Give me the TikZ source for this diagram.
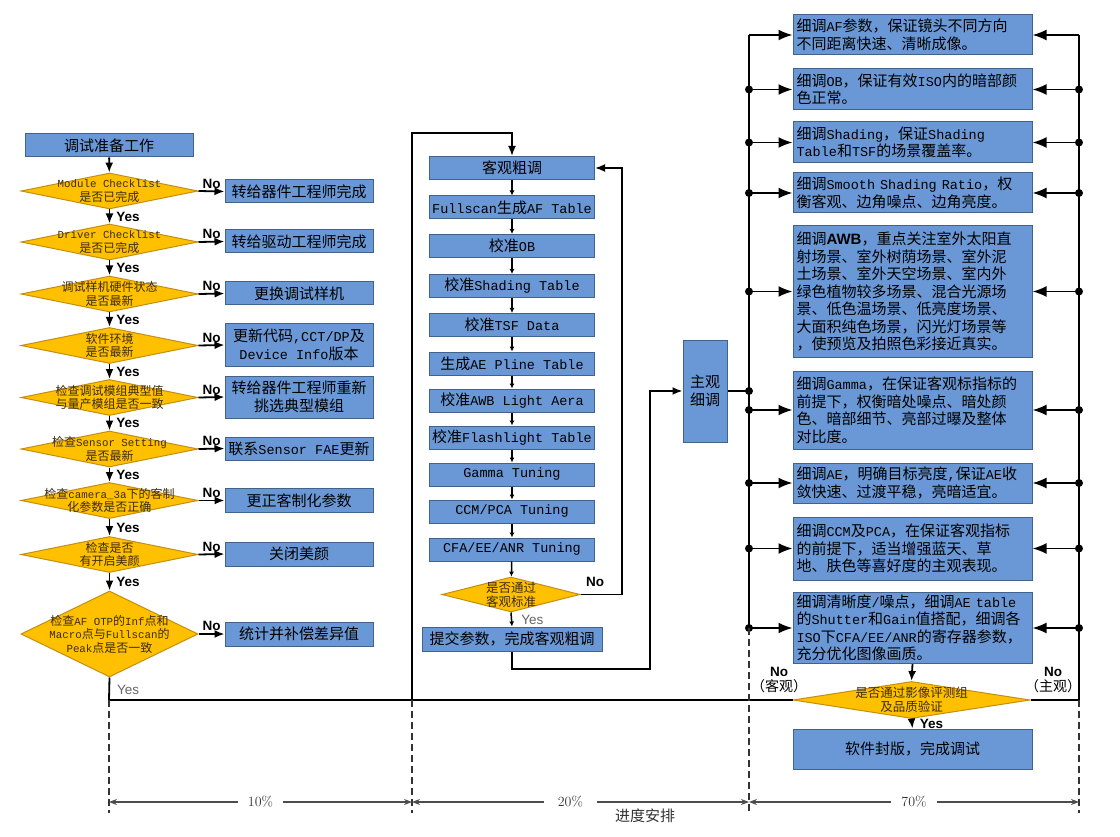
\documentclass[tikz,border=0pt]{standalone}
\usepackage{fontspec}
\newfontfamily\cjk{Noto Sans CJK SC}
\newfontfamily\mono{Liberation Mono}[Scale=0.9]
\newfontfamily\lsans{Liberation Sans}
\usetikzlibrary{shapes.geometric,arrows.meta,calc}
\newcommand\lat[1]{{\mono #1}}
\definecolor{boxfill}{RGB}{106,152,214}
\definecolor{boxline}{RGB}{66,98,142}
\definecolor{decfill}{RGB}{255,192,0}
\definecolor{decline}{RGB}{196,142,18}
\definecolor{dtextc}{RGB}{60,44,10}
\begin{document}
\begin{tikzpicture}[x=1pt,y=-1pt,
  box/.style={draw=boxline, fill=boxfill, line width=1pt, inner sep=0pt, align=center,
    font=\cjk\fontsize{15}{17.5}\selectfont},
  midbox/.style={box, minimum width=165pt, minimum height=23pt},
  leftbox/.style={box, minimum width=148pt},
  note/.style={box, align=left, text width=232pt, inner xsep=3.5pt, minimum width=239pt},
  decision/.style={diamond, draw=decline, fill=decfill, line width=1pt, inner sep=0pt},
  dtext/.style={font=\cjk\fontsize{12}{13.5}\selectfont, align=center, text=dtextc, inner sep=0pt},
  flow/.style={line width=1.8pt, -{Latex[length=10pt,width=8pt]}},
  wire/.style={line width=1.8pt},
  link/.style={line width=1.5pt, -{Latex[length=5pt,width=5pt]}},
  busarr/.style={line width=1.8pt, -{Latex[length=14pt,width=11pt]}},
  dot/.style={circle, fill=black, inner sep=0pt, minimum size=8pt},
  nolab/.style={font=\lsans\bfseries\fontsize{13.5}{14}\selectfont, inner sep=1pt},
  greylab/.style={font=\lsans\fontsize{13.5}{14}\selectfont, text=black!60, inner sep=1pt},
  marker/.style={line width=1.3pt, dash pattern=on 7pt off 4pt, black!80},
  dim/.style={line width=1.2pt, black!70, {Stealth[length=8pt,width=6pt]}-{Stealth[length=8pt,width=6pt]}},
  dimlab/.style={fill=white, inner xsep=10pt, inner ysep=1pt, font=\fontsize{14}{16}\selectfont, text=black!80}
]
\fill[white] (0,0) rectangle (1120,837);
\useasboundingbox (0,0) rectangle (1120,837);

% ---------- preparation checks ----------
\node[box, minimum width=168pt, minimum height=23pt] (start) at (109,145.5) {调试准备工作};

\node[decision, minimum width=177pt, minimum height=36pt,
  label={[dtext]center:{\lat{Module Checklist}\\是否已完成}}] (d1) at (109.5,191) {};
\node[decision, minimum width=177pt, minimum height=36pt,
  label={[dtext]center:{\lat{Driver Checklist}\\是否已完成}}] (d2) at (109.5,242) {};
\node[decision, minimum width=177pt, minimum height=36pt,
  label={[dtext]center:{调试样机硬件状态\\是否最新}}] (d3) at (109.5,294) {};
\node[decision, minimum width=177pt, minimum height=36pt,
  label={[dtext]center:{软件环境\\是否最新}}] (d4) at (109.5,345.5) {};
\node[decision, minimum width=177pt, minimum height=36pt,
  label={[dtext]center:{检查调试模组典型值\\与量产模组是否一致}}] (d5) at (109.5,397.5) {};
\node[decision, minimum width=177pt, minimum height=36pt,
  label={[dtext]center:{检查\lat{Sensor Setting}\\是否最新}}] (d6) at (109.5,449) {};
\node[decision, minimum width=177pt, minimum height=36pt,
  label={[dtext]center:{检查\lat{camera\_3a}下的客制\\化参数是否正确}}] (d7) at (109.5,500.5) {};
\node[decision, minimum width=177pt, minimum height=36pt,
  label={[dtext]center:{检查是否\\有开启美颜}}] (d8) at (109.5,554.5) {};
\node[decision, minimum width=177pt, minimum height=86pt,
  label={[dtext]center:{检查\lat{AF OTP}的\lat{Inf}点和\\\lat{Macro}点与\lat{Fullscan}的\\\lat{Peak}点是否一致}}] (d9) at (109.5,634) {};

\node[leftbox, minimum height=23pt] (b1) at (299,191.5) {转给器件工程师完成};
\node[leftbox, minimum height=23pt] (b2) at (299,241.5) {转给驱动工程师完成};
\node[leftbox, minimum height=23pt] (b3) at (299,293.5) {更换调试样机};
\node[leftbox, minimum height=43pt] (b4) at (299,345) {更新代码\lat{,CCT/DP}及\\\lat{Device Info}版本};
\node[leftbox, minimum height=42pt] (b5) at (299,397) {转给器件工程师重新\\挑选典型模组};
\node[leftbox, minimum height=23pt] (b6) at (299,448.5) {联系\lat{Sensor FAE}更新};
\node[leftbox, minimum height=24pt] (b7) at (299,500.5) {更正客制化参数};
\node[leftbox, minimum height=24pt] (b8) at (299,554) {关闭美颜};
\node[leftbox, minimum height=24pt] (b9) at (299,634) {统计并补偿差异值};

\draw[flow] (start) -- (d1);
\foreach \a/\b in {d1/d2,d2/d3,d3/d4,d4/d5,d5/d6,d6/d7,d7/d8,d8/d9}
  \draw[flow] (\a.south) -- (\b.north) node[midway, right=5pt, nolab] {Yes};
\foreach \a/\b in {d1/b1,d2/b2,d3/b3,d4/b4,d5/b5,d6/b6,d7/b7,d8/b8,d9/b9}
  \draw[flow] (\a.east) -- (\b.west) node[midway, above=1pt, nolab] {No};

% ---------- objective coarse tuning ----------
\node[midbox] (m1) at (512,168) {客观粗调};
\node[midbox] (m2) at (512,207.5) {\lat{Fullscan}生成\lat{AF Table}};
\node[midbox] (m3) at (512,246) {校准\lat{OB}};
\node[midbox] (m4) at (512,286) {校准\lat{Shading Table}};
\node[midbox] (m5) at (512,325) {校准\lat{TSF Data}};
\node[midbox] (m6) at (512,363.5) {生成\lat{AE Pline Table}};
\node[midbox] (m7) at (512,400.5) {校准\lat{AWB Light Aera}};
\node[midbox] (m8) at (512,437.5) {校准\lat{Flashlight Table}};
\node[midbox] (m9) at (512,474.5) {\lat{Gamma Tuning}};
\node[midbox] (m10) at (512,511.5) {\lat{CCM/PCA Tuning}};
\node[midbox] (m11) at (512,549.5) {\lat{CFA/EE/ANR Tuning}};
\node[decision, minimum width=138pt, minimum height=35pt,
  label={[dtext, font=\cjk\fontsize{12.5}{14}\selectfont]center:{是否通过\\客观标准}}] (md) at (511,594.5) {};
\node[box, minimum width=180pt, minimum height=24pt] (sub) at (512,639) {提交参数，完成客观粗调};

\foreach \a/\b in {m1/m2,m2/m3,m3/m4,m4/m5,m5/m6,m6/m7,m7/m8,m8/m9,m9/m10,m10/m11,m11/md}
  \draw[link] (\a) -- (\b);
\draw[link] (md.south) -- (sub.north) node[midway, right=8pt, greylab] {Yes};

\coordinate (nr) at (622,594.5);
\draw[flow] (md.east) -- (nr) node[pos=0.35, above=6pt, nolab] {No} |- (m1.east);

% ---------- subjective fine tuning ----------
\node[box, minimum width=44pt, minimum height=102pt] (zg) at (705,391) {主观\\细调};

\coordinate (s1) at (512,669);
\coordinate (s2) at (650,669);
\draw[flow] (sub.south) -- (s1) -- (s2) |- (zg.west);

\node[note, minimum height=40pt] (r1) at (912.5,35) {细调\lat{AF}参数，保证镜头不同方向\\不同距离快速、清晰成像。};
\node[note, minimum height=41pt] (r2) at (912.5,89.5) {细调\lat{OB}，保证有效\lat{ISO}内的暗部颜\\色正常。};
\node[note, minimum height=41pt] (r3) at (912.5,142.5) {细调\lat{Shading}，保证\lat{Shading}\\\lat{Table}和\lat{TSF}的场景覆盖率。};
\node[note, minimum height=40pt] (r4) at (912.5,193) {细调\lat{Smooth Shading Ratio}，权\\衡客观、边角噪点、边角亮度。};
\node[note, minimum height=131pt] (r5) at (912.5,291.5) {细调{\lsans\bfseries AWB}，重点关注室外太阳直\\射场景、室外树荫场景、室外泥\\土场景、室外天空场景、室内外\\绿色植物较多场景、混合光源场\\景、低色温场景、低亮度场景、\\大面积纯色场景，闪光灯场景等\\，使预览及拍照色彩接近真实。};
\node[note, minimum height=78pt] (r6) at (912.5,410) {细调\lat{Gamma}，在保证客观标指标的\\前提下，权衡暗处噪点、暗处颜\\色、暗部细节、亮部过曝及整体\\对比度。};
\node[note, minimum height=40pt] (r7) at (912.5,483) {细调\lat{AE}，明确目标亮度\lat{,}保证\lat{AE}收\\敛快速、过渡平稳，亮暗适宜。};
\node[note, minimum height=63pt] (r8) at (912.5,548.5) {细调\lat{CCM}及\lat{PCA}，在保证客观指标\\的前提下，适当增强蓝天、草\\地、肤色等喜好度的主观表现。};
\node[note, minimum height=71pt] (r9) at (912.5,628) {细调清晰度\lat{/}噪点，细调\lat{AE table}\\的\lat{Shutter}和\lat{Gain}值搭配，细调各\\\lat{ISO}下\lat{CFA/EE/ANR}的寄存器参数，\\充分优化图像画质。};

\node[decision, minimum width=237pt, minimum height=37pt,
  label={[dtext, font=\cjk\fontsize{12.5}{14}\selectfont]center:{是否通过影像评测组\\及品质验证}}] (fd) at (911.5,700) {};
\node[box, minimum width=239pt, minimum height=40pt] (fin) at (912.5,749) {软件封版，完成调试};

% distribution buses
\coordinate (lt) at (749,35);
\coordinate (lb) at (749,628);
\coordinate (rt) at (1079,35);
\coordinate (rb) at (1079,700);
\draw[wire] (lt) -- (lb);
\draw[wire] (rt) -- (rb);
\draw[wire] (zg.east) -- (zg.east -| lt) node[dot] {};
\foreach \r in {r1,r2,r3,r4,r5,r6,r7,r8,r9} {
  \draw[busarr] (\r.west -| lt) -- (\r.west);
  \draw[busarr] (\r.east -| rt) -- (\r.east);
}
\foreach \r in {r2,r3,r4,r5,r6,r7,r8,r9} {
  \node[dot] at (\r.west -| lt) {};
  \node[dot] at (\r.east -| rt) {};
}

\draw[flow] (r9.south) -- (fd.north);
\draw[flow] (fd.south) -- (fin.north) node[midway, right=6pt, nolab] {Yes};
\draw[wire] (fd.east) -- (rb);

% main return path to the coarse tuning stage
\coordinate (jl) at (109,700);
\coordinate (jm) at (412,700);
\coordinate (tm) at (412,133);
\draw[wire] (d9.south) -- (jl) node[pos=0.55, right=6pt, greylab] {Yes};
\draw[wire] (fd.west) -- (jl);
\draw[flow] (jm) -- (tm) -| (m1.north);

\node[align=center, inner sep=0pt] at (779,680)
  {{\lsans\bfseries\fontsize{13.5}{14}\selectfont No}\\[1pt]{\cjk\fontsize{14}{16}\selectfont （客观）}};
\node[align=center, inner sep=0pt] at (1053,680)
  {{\lsans\bfseries\fontsize{13.5}{14}\selectfont No}\\[1pt]{\cjk\fontsize{14}{16}\selectfont （主观）}};

% ---------- schedule ----------
\coordinate (p1) at (109,813);
\coordinate (p2) at (412,813);
\coordinate (p3) at (749,813);
\coordinate (p4) at (1079,813);
\draw[marker] (jl) -- (p1);
\draw[marker] (jm) -- (p2);
\draw[marker] (lb) -- (p3);
\draw[marker] (rb) -- (p4);
\coordinate (q1) at (109,802);
\coordinate (q2) at (412,802);
\coordinate (q3) at (749,802);
\coordinate (q4) at (1079,802);
\draw[dim] (q1) -- (q2) node[midway, dimlab] {10\%};
\draw[dim] (q2) -- (q3) node[pos=0.47, dimlab, inner xsep=14pt] {20\%};
\draw[dim] (q3) -- (q4) node[midway, dimlab] {70\%};
\node[font=\cjk\fontsize{15}{17}\selectfont, text=black!80] (sched) at (645,816) {进度安排};
\end{tikzpicture}
\end{document}
